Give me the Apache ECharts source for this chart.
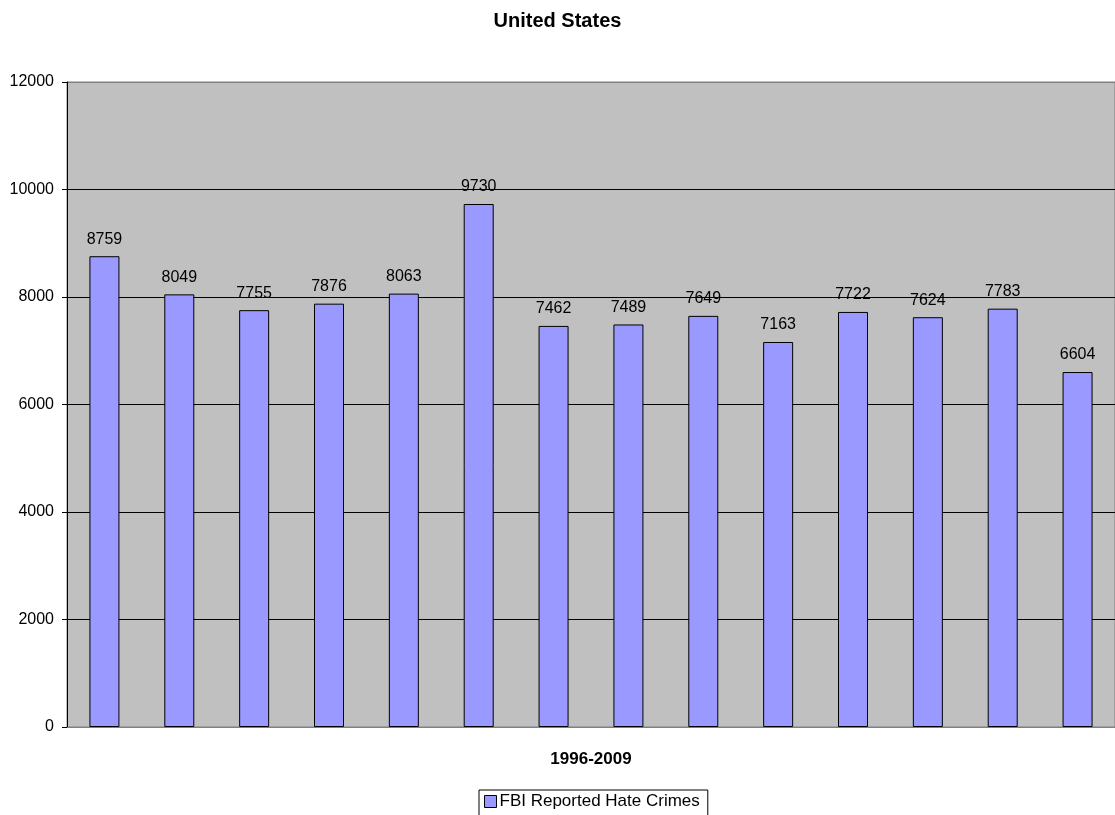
<!DOCTYPE html>
<html>
<head>
<meta charset="utf-8">
<script src="https://cdn.jsdelivr.net/npm/echarts@6/dist/echarts.min.js"></script>
<style>
  html, body { margin: 0; padding: 0; background: #fff; }
  #chart { width: 1115px; height: 815px; }
</style>
</head>
<body>
<div id="chart"></div>
<script>
// FBI reported hate crimes in the United States, 1996-2009
const years = ['1996', '1997', '1998', '1999', '2000', '2001', '2002',
               '2003', '2004', '2005', '2006', '2007', '2008', '2009'];
const hateCrimes = [8759, 8049, 7755, 7876, 8063, 9730, 7462,
                    7489, 7649, 7163, 7722, 7624, 7783, 6604];
const seriesName = 'FBI Reported Hate Crimes';
const yTicks = { min: 0, max: 12000, interval: 2000 };

const FONT = '"Liberation Sans", Arial, sans-serif';
const chart = echarts.init(document.getElementById('chart'), null, { renderer: 'canvas' });

chart.setOption({
  animation: false,
  backgroundColor: '#ffffff',
  title: {
    text: 'United States',
    left: 'center',
    top: 6,
    textStyle: { fontFamily: FONT, fontSize: 20, fontWeight: 'bold', color: '#000' }
  },
  grid: {
    left: 67, right: -1, top: 82, bottom: 88,
    show: true,
    backgroundColor: '#C0C0C0',
    borderColor: '#808080',
    borderWidth: 1
  },
  legend: {
    data: [{ name: seriesName, icon: 'rect' }],
    left: 479,
    top: 790,
    padding: [3, 8, 8, 5],
    itemWidth: 12,
    itemHeight: 12,
    itemGap: 4,
    borderColor: '#000',
    borderWidth: 1,
    borderRadius: 0,
    textStyle: { fontFamily: FONT, fontSize: 17, color: '#000', padding: [0, 0, 0, -2] },
    itemStyle: { borderColor: '#000', borderWidth: 1 }
  },
  xAxis: {
    type: 'category',
    data: years,
    name: '1996-2009',
    nameLocation: 'middle',
    nameGap: 24,
    nameTextStyle: { fontFamily: FONT, fontSize: 17, fontWeight: 'bold', color: '#000' },
    axisLine: { show: true, lineStyle: { color: '#808080', width: 1 } },
    axisTick: { show: false },
    axisLabel: { show: false }
  },
  yAxis: {
    type: 'value',
    min: yTicks.min,
    max: yTicks.max,
    interval: yTicks.interval,
    axisLine: { show: true, lineStyle: { color: '#000', width: 1 } },
    axisTick: { show: true, length: 5, lineStyle: { color: '#000' } },
    axisLabel: {
      fontFamily: FONT, fontSize: 16, color: '#000', margin: 13,
      formatter: (v) => String(v)
    },
    splitLine: {
      show: true,
      lineStyle: {
        color: ['#808080', '#000', '#000', '#000', '#000', '#000', '#808080'],
        width: 1
      }
    }
  },
  series: [{
    name: seriesName,
    type: 'bar',
    data: hateCrimes,
    barWidth: 30,
    itemStyle: { color: '#9999FF', borderColor: '#000', borderWidth: 1 },
    label: {
      show: true,
      position: 'top',
      distance: 9,
      fontFamily: FONT,
      fontSize: 16,
      color: '#000'
    }
  }]
});
</script>
</body>
</html>
